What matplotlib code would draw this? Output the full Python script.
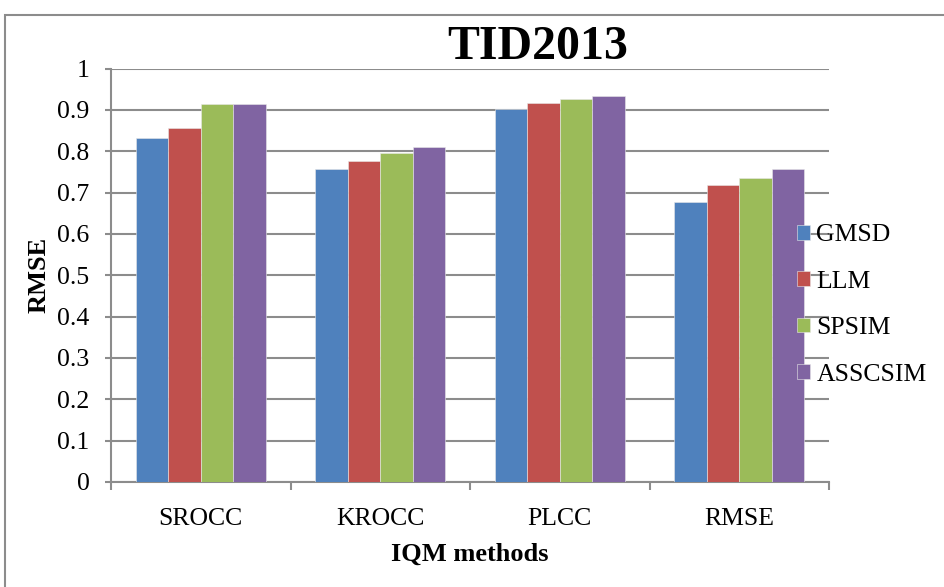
import matplotlib
matplotlib.use("Agg")
import matplotlib.pyplot as plt
from matplotlib.patches import Rectangle
import numpy as np

# Scores per quality metric on TID2013
categories = ["SROCC", "KROCC", "PLCC", "RMSE"]
methods = ["GMSD", "LLM", "SPSIM", "ASSCSIM"]
gmsd = [0.832, 0.756, 0.903, 0.677]
llm = [0.856, 0.777, 0.917, 0.718]
spsim = [0.914, 0.795, 0.927, 0.735]
asscsim = [0.914, 0.811, 0.934, 0.757]
yticks = [0, 0.1, 0.2, 0.3, 0.4, 0.5, 0.6, 0.7, 0.8, 0.9, 1]
ytick_labels = ["0", "0.1", "0.2", "0.3", "0.4", "0.5", "0.6", "0.7", "0.8", "0.9", "1"]

series = [gmsd, llm, spsim, asscsim]
colors = ["#4F81BD", "#C0504D", "#9BBB59", "#8064A2"]

plt.rcParams["font.family"] = ["Liberation Serif", "DejaVu Serif"]

W, H, DPI = 944, 587, 100
fig = plt.figure(figsize=(W / DPI, H / DPI), dpi=DPI)

# outer chart frame
fig.patches.append(Rectangle((5 / W, -0.05), 1.2, (587 - 15) / H + 0.05,
                             transform=fig.transFigure, fill=False,
                             edgecolor="#8C8C8C", linewidth=1.5))

ax = fig.add_axes([111 / W, 1 - 482 / H, (829 - 111) / W, (482 - 68.5) / H])

x = np.arange(len(categories))
bw = 0.181
for i, (vals, name, c) in enumerate(zip(series, methods, colors)):
    ax.bar(x + (i - 1.5) * bw, vals, width=bw, color=c, label=name,
           edgecolor="#E8E8E8", linewidth=0.4, zorder=3)

ax.set_xlim(-0.5, len(categories) - 0.5)
ax.set_ylim(0, 1)
ax.set_yticks(yticks)
ax.set_yticklabels(ytick_labels)
ax.yaxis.grid(True, color="#8C8C8C", linewidth=1.5, zorder=0)
ax.set_axisbelow(True)

# category separators as major ticks, labels as minor ticks at centers
ax.set_xticks(np.arange(len(categories) + 1) - 0.5)
ax.set_xticklabels([])
ax.set_xticks(x, minor=True)
ax.set_xticklabels(categories, minor=True)
ax.tick_params(axis="x", which="major", length=6, width=1.5, color="#8C8C8C", direction="out")
ax.tick_params(axis="x", which="minor", length=0, pad=19, labelsize=18.5)
ax.tick_params(axis="y", length=4.5, width=1.5, color="#8C8C8C", direction="out",
               pad=11, labelsize=18.5)

for side in ["top", "right"]:
    ax.spines[side].set_visible(False)
for side in ["left", "bottom"]:
    ax.spines[side].set_color("#8C8C8C")
    ax.spines[side].set_linewidth(1.5)

ax.set_xlabel("IQM methods", fontsize=19, fontweight="bold", labelpad=9)
ax.set_ylabel("RMSE", fontsize=19, fontweight="bold", labelpad=5)

fig.text(537.5 / W, 1 - 47 / H, "TID2013", fontsize=34.5, fontweight="bold",
         ha="center", va="center")

ax.legend(loc="center left", bbox_to_anchor=(797 / W, 1 - 305 / H),
          bbox_transform=fig.transFigure, frameon=False, fontsize=18.5,
          handlelength=0.5, handleheight=0.5, handletextpad=0.25,
          labelspacing=0.95, borderpad=0, borderaxespad=0)

fig.savefig("out.png", dpi=DPI)
